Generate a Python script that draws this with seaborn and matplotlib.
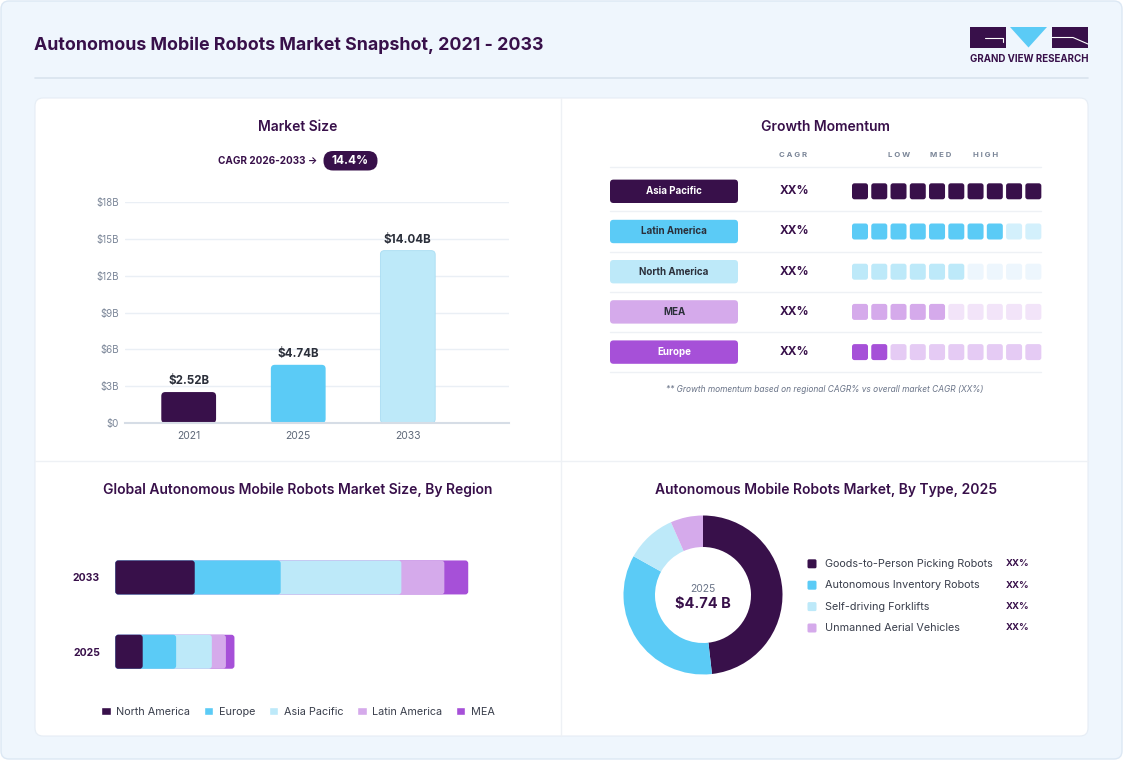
import matplotlib
matplotlib.use('Agg')
import matplotlib.pyplot as plt
from matplotlib.patches import FancyBboxPatch, Polygon, Patch
import seaborn as sns
import pandas as pd
import numpy as np

# ---- data ----
years = ['2021', '2025', '2033']
market_size = [2.52, 4.74, 14.04]
cagr_text = 'CAGR 2026-2033 →'
cagr_value = '14.4%'

momentum_regions = ['Asia Pacific', 'Latin America', 'North America', 'MEA', 'Europe']
momentum_cagr = ['XX%', 'XX%', 'XX%', 'XX%', 'XX%']
momentum_level = [10, 8, 6, 5, 2]
momentum_heads = ['LOW', 'MED', 'HIGH']

region_years = ['2033', '2025']
region_names = ['North America', 'Europe', 'Asia Pacific', 'Latin America', 'MEA']
region_2033 = [3.16, 3.42, 4.80, 1.71, 0.95]
region_2025 = [1.09, 1.33, 1.42, 0.56, 0.34]

type_names = ['Goods-to-Person Picking Robots', 'Autonomous Inventory Robots',
              'Self-driving Forklifts', 'Unmanned Aerial Vehicles']
type_share = [48.2, 34.9, 10.3, 6.6]
type_labels = ['XX%', 'XX%', 'XX%', 'XX%']

# ---- colours ----
DARK = '#38104A'
BLUE = '#5BCBF6'
LIGHT = '#BDE9F9'
LAV = '#D5AAEB'
PURP = '#A650D8'
GREY = '#7B8698'
TXT = '#2B2F3A'

W, H = 1123, 760

sns.set_theme(style='white')
plt.rcParams['font.family'] = ['Inter', 'DejaVu Sans']


def px_axes(fig, x0, y0, x1, y1):
    ax = fig.add_axes([x0 / W, 1 - y1 / H, (x1 - x0) / W, (y1 - y0) / H])
    ax.set_facecolor('none')
    return ax


def rbox(ax, x, y, w, h, r, color, **kw):
    ax.add_patch(FancyBboxPatch((x + r, y + r), w - 2 * r, h - 2 * r,
                                boxstyle=f'round,pad={r}', fc=color, ec='none', **kw))


def round_bars(ax, r_px, edges=None):
    '''swap the bar rectangles for rounded ones (radius in pixels)'''
    bb = ax.get_window_extent()
    xu = abs(np.diff(ax.get_xlim())[0]) / bb.width
    yu = abs(np.diff(ax.get_ylim())[0]) / bb.height
    for n, p in enumerate(list(ax.patches)):
        x, y0, w, h = p.get_x(), p.get_y(), p.get_width(), p.get_height()
        c = p.get_facecolor()
        z = p.get_zorder()
        p.remove()
        ec = edges[n] if edges else 'none'
        ax.add_patch(FancyBboxPatch((x, y0), w, h, mutation_aspect=yu / xu,
                                    boxstyle=f'round,pad=0,rounding_size={r_px * xu}',
                                    fc=c, ec=ec, lw=0.6, zorder=z))


fig = plt.figure(figsize=(W / 100, H / 100), dpi=100)
fig.patch.set_facecolor('white')

# background / cards in pixel space
bg = fig.add_axes([0, 0, 1, 1])
bg.set_xlim(0, W)
bg.set_ylim(H, 0)
bg.axis('off')
bg.add_patch(FancyBboxPatch((9, 9), W - 18, H - 18, boxstyle='round,pad=8',
                            fc='#EFF6FD', ec='#DCE8F4', lw=1))
bg.text(34, 45, 'Autonomous Mobile Robots Market Snapshot, 2021 - 2033',
        fontsize=12.8, fontweight='bold', color=DARK, va='center')
bg.plot([35, 1088], [77.5, 77.5], color='#D9E3EE', lw=1.2)

# logo
bg.add_patch(plt.Rectangle((970, 27), 36, 21, fc=DARK, ec='none'))
bg.plot([985, 1003, 1003], [37.5, 37.5, 42], color='white', lw=0.8)
bg.add_patch(Polygon([(1010, 27), (1047, 27), (1028.5, 47.5)], fc=BLUE, ec='none'))
bg.add_patch(plt.Rectangle((1052, 27), 36, 21, fc=DARK, ec='none'))
bg.plot([1052, 1073, 1088], [37.5, 37.5, 44], color='white', lw=0.8)
bg.text(1029, 59.5, 'GRAND VIEW RESEARCH', fontsize=7, fontweight='bold',
        color=DARK, ha='center', va='center')

# white card and dividers
bg.add_patch(FancyBboxPatch((43, 106), 1037, 622, boxstyle='round,pad=8',
                            fc='white', ec='#E6EDF5', lw=0.8))
bg.plot([561, 561], [98, 736], color='#EEF1F5', lw=1)
bg.plot([35, 1088], [461, 461], color='#EEF1F5', lw=1)

# ---- Market size ----
bg.text(298, 127, 'Market Size', fontsize=10, fontweight='semibold', color=DARK,
        ha='center', va='center')
bg.text(317, 161, cagr_text, fontsize=7.2, fontweight='bold', color=DARK,
        ha='right', va='center')
rbox(bg, 323.5, 151, 54, 19.5, 9.5, DARK)
bg.text(350.5, 161, cagr_value, fontsize=8.5, fontweight='bold', color='white',
        ha='center', va='center')

ax1 = px_axes(fig, 124.7, 202, 508.7, 423)
df_ms = pd.DataFrame({'year': years, 'size': market_size})
sns.barplot(data=df_ms, x='year', y='size', hue='year', palette=[DARK, BLUE, LIGHT],
            width=0.5, saturation=1, legend=False, ax=ax1)
ax1.set_xlim(-0.584, 2.921)
ax1.set_ylim(0, 18)
round_bars(ax1, 4, edges=['none', 'none', '#A9DDF3'])
for i, v in enumerate(market_size):
    ax1.text(i, v + 0.9, f'${v:.2f}B', ha='center', va='center', fontsize=8.3,
             fontweight='bold', color=TXT)
ticks = list(range(0, 19, 3))
ax1.set_yticks(ticks)
ax1.set_yticklabels(['$0'] + [f'${t}B' for t in ticks[1:]])
ax1.yaxis.grid(True, color='#EAEFF5', lw=1)
ax1.set_axisbelow(True)
sns.despine(ax=ax1, left=True, bottom=False)
ax1.spines['bottom'].set_color('#D6DDE6')
ax1.spines['bottom'].set_linewidth(1.5)
ax1.tick_params(axis='y', length=0, pad=4, labelsize=7, labelcolor=GREY)
ax1.tick_params(axis='x', length=0, pad=6, labelsize=7.5, labelcolor='#5E6878')
ax1.set_xlabel('')
ax1.set_ylabel('')

# ---- Growth momentum ----
bg.text(825, 127, 'Growth Momentum', fontsize=10, fontweight='semibold', color=DARK,
        ha='center', va='center')
bg.text(793, 155, 'C A G R', fontsize=5.6, fontweight='bold', color=GREY,
        ha='center', va='center')
for hx, hname in zip([898.7, 940.7, 985.3], momentum_heads):
    bg.text(hx, 155, ' '.join(hname), fontsize=5.6, fontweight='bold', color=GREY,
            ha='center', va='center')
for ly in [167.3, 211.3, 251.5, 292, 332.3, 372.3]:
    bg.plot([610, 1041], [ly, ly], color='#EEF1F5', lw=1)

pill_col = [DARK, BLUE, LIGHT, LAV, PURP]
pill_txt = ['white', TXT, TXT, TXT, 'white']
faded = [DARK, '#D3F0FC', '#EDF6FD', '#F2E4F9', '#E5CBF4']
for i, (name, lvl) in enumerate(zip(momentum_regions, momentum_level)):
    y = 191.3 + i * 40.2
    rbox(bg, 610, y - 11.7, 128, 23.4, 3.5, pill_col[i])
    bg.text(674, y, name, fontsize=7, fontweight='bold', color=pill_txt[i],
            ha='center', va='center')
    bg.text(795, y, momentum_cagr[i], fontsize=8.5, fontweight='bold', color=DARK,
            ha='center', va='center')
    for j in range(10):
        c = pill_col[i] if j < lvl else faded[i]
        rbox(bg, 852 + j * 19.26, y - 8, 16, 16, 2.5, c)
bg.text(825, 389.5, '** Growth momentum based on regional CAGR% vs overall market CAGR (XX%)',
        fontsize=6, style='italic', color='#6A7488', ha='center', va='center')

# ---- By region ----
bg.text(298, 490, 'Global Autonomous Mobile Robots Market Size, By Region', fontsize=10,
        fontweight='semibold', color=DARK, ha='center', va='center')
ax3 = px_axes(fig, 115.3, 540.3, 517.5, 688.9)
region_colors = [DARK, BLUE, LIGHT, LAV, PURP]
cum = np.cumsum([region_2033, region_2025], axis=1)
for k in range(len(region_names) - 1, -1, -1):
    sns.barplot(x=cum[:, k], y=region_years, orient='h', color=region_colors[k],
                saturation=1, width=34 / 74.3, ax=ax3)
ax3.set_xlim(0, 16)
ax3.set_ylim(1.5, -0.5)
round_bars(ax3, 3)
sns.despine(ax=ax3, left=True, bottom=True)
ax3.set_xticks([])
ax3.tick_params(axis='y', length=0, pad=11, labelsize=7.5, labelcolor=DARK)
for t in ax3.get_yticklabels():
    t.set_fontweight('bold')
ax3.set_xlabel('')
ax3.set_ylabel('')
handles = [Patch(facecolor=c, label=n) for c, n in zip(region_colors, region_names)]
fig.legend(handles=handles, loc='center', bbox_to_anchor=(298 / W, 1 - 711.8 / H), ncol=5,
           frameon=False, fontsize=7.8, handlelength=0.85, handleheight=0.85,
           handletextpad=0.5, columnspacing=1.3, labelcolor='#3A3F4C')

# ---- By type donut ----
bg.text(826, 490, 'Autonomous Mobile Robots Market, By Type, 2025', fontsize=10,
        fontweight='semibold', color=DARK, ha='center', va='center')
ax4 = px_axes(fig, 703 - 80, 595 - 80, 703 + 80, 595 + 80)
ax4.pie(type_share, colors=region_colors[:4], startangle=90, counterclock=False,
        radius=79.5 / 80, wedgeprops=dict(width=31.5 / 80, linewidth=0))
ax4.set_xlim(-1, 1)
ax4.set_ylim(-1, 1)
bg.text(703, 589.5, '2025', fontsize=7.5, color='#6A7488', ha='center', va='center')
bg.text(703, 604, '$4.74 B', fontsize=10.5, fontweight='bold', color=DARK,
        ha='center', va='center')
for i, (name, lab) in enumerate(zip(type_names, type_labels)):
    y = 563.8 + i * 21.4
    rbox(bg, 807.5, y - 4.5, 9, 9, 1.5, region_colors[i])
    bg.text(824.7, y, name, fontsize=7.8, color='#3A3F4C', ha='left', va='center')
    bg.text(1006, y, lab, fontsize=6.8, fontweight='bold', color=DARK,
            ha='left', va='center')

fig.savefig('out.png', dpi=100, facecolor=fig.get_facecolor())
